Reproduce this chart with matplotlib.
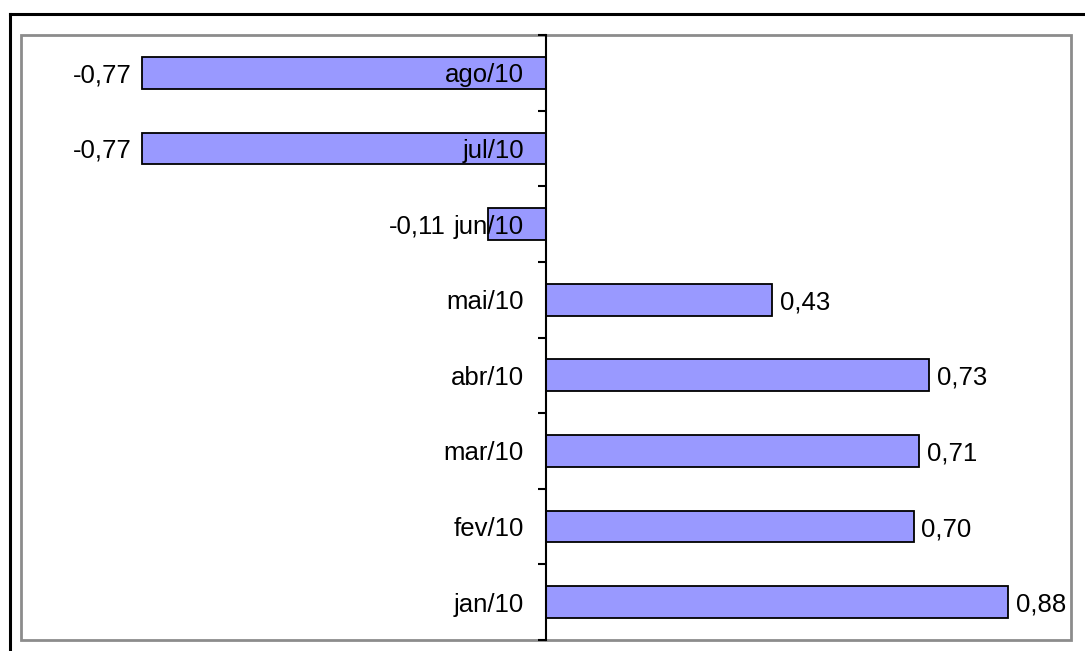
import numpy as np
import matplotlib
matplotlib.use("Agg")
import matplotlib.pyplot as plt
from matplotlib.patches import Rectangle
from matplotlib.lines import Line2D

# meses (de baixo para cima) e variação mensal
meses = ['jan/10', 'fev/10', 'mar/10', 'abr/10', 'mai/10', 'jun/10', 'jul/10', 'ago/10']
valores = [0.88, 0.70, 0.71, 0.73, 0.43, -0.11, -0.77, -0.77]

plt.rcParams['font.family'] = ['Liberation Sans', 'DejaVu Sans']
FS = 18.5
GRAY = '#8c8c8c'

W, H = 1085, 651
fig = plt.figure(figsize=(W / 100, H / 100), dpi=100)
ax = fig.add_axes([21 / W, 11 / H, 1050 / W, 605 / H])

pos = np.arange(len(meses))
ax.barh(pos, valores, height=0.42, color='#9999ff', edgecolor='black', linewidth=1.3, zorder=2)

ax.set_xlim(-1, 1)
ax.set_ylim(-0.5, len(meses) - 0.5)

# eixo vertical no zero, com marcas entre as categorias
ax.spines['left'].set_position(('data', 0))
ax.spines['left'].set_color('black')
ax.spines['left'].set_linewidth(1.5)
ax.spines['left'].set_zorder(3)
for s in ['top', 'right', 'bottom']:
    ax.spines[s].set_visible(False)
ax.set_xticks([])
ax.set_yticks(np.arange(-0.5, len(meses)))
ax.set_yticklabels([])
ax.tick_params(axis='y', direction='out', length=6, width=1.5, color='black')

# moldura cinza da área do gráfico
ax.add_patch(Rectangle((0, 0), 1, 1, transform=ax.transAxes, fill=False,
                       edgecolor=GRAY, linewidth=2, clip_on=False, zorder=1))

rotulos = []
for y, m in enumerate(meses):
    t = ax.annotate(m, xy=(0, y), xytext=(-22, 0), textcoords='offset pixels',
                    ha='right', va='center_baseline', fontsize=FS, zorder=4)
    rotulos.append(t)

fig.canvas.draw()
renderer = fig.canvas.get_renderer()

for y, v in enumerate(valores):
    txt = f'{v:.2f}'.replace('.', ',')
    if v >= 0:
        ax.annotate(txt, xy=(v, y), xytext=(8, 0), textcoords='offset pixels',
                    ha='left', va='center_baseline', fontsize=FS)
    else:
        # não sobrepor o rótulo do mês quando a barra é curta
        bar_px = ax.transData.transform((v, y))[0]
        cat_left = rotulos[y].get_window_extent(renderer).x0
        dx = min(-10, cat_left - 8 - bar_px)
        ax.annotate(txt, xy=(v, y), xytext=(dx, 0), textcoords='offset pixels',
                    ha='right', va='center_baseline', fontsize=FS)

# moldura externa preta
fig.add_artist(Line2D([10 / W, 1], [1 - 14 / H, 1 - 14 / H], color='black', linewidth=2.2))
fig.add_artist(Line2D([10 / W, 10 / W], [0, 1 - 14 / H], color='black', linewidth=2.2))

fig.savefig('out.png', dpi=100)
